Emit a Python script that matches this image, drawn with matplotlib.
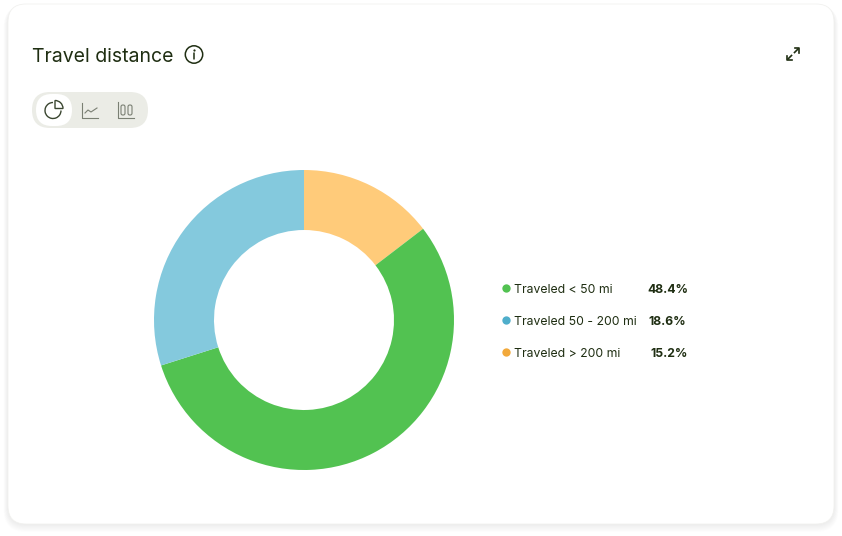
import matplotlib
matplotlib.use('Agg')
import matplotlib.pyplot as plt
from matplotlib.patches import FancyBboxPatch, Circle, Wedge, Arc

# slice sizes as drawn (percent of the ring)
slice_names = ['Traveled > 200 mi', 'Traveled < 50 mi', 'Traveled 50 - 200 mi']
slice_sizes = [14.6, 55.5, 29.9]
slice_colors = ['#FFCB7A', '#52C251', '#84C9DD']

# legend text as printed
legend_names = ['Traveled < 50 mi', 'Traveled 50 - 200 mi', 'Traveled > 200 mi']
legend_values = ['48.4%', '18.6%', '15.2%']
legend_dots = ['#52C251', '#4FAECB', '#F2A93B']

W, H = 842, 536
dark = '#1F2E12'
plt.rcParams['font.family'] = ['Inter', 'DejaVu Sans']

fig = plt.figure(figsize=(W / 100, H / 100), dpi=100, facecolor='white')

# background axes in pixel coordinates, y going down
bg = fig.add_axes([0, 0, 1, 1])
bg.set_xlim(0, W)
bg.set_ylim(H, 0)
bg.axis('off')


def card(x0, y0, x1, y1, r, **kw):
    p = FancyBboxPatch((x0 + r, y0 + r), x1 - x0 - 2 * r, y1 - y0 - 2 * r,
                       boxstyle='round,pad=%f,rounding_size=%f' % (r, r), **kw)
    bg.add_patch(p)


# soft shadow then the card
for i in range(9, 0, -1):
    card(8 - i * .5, 6 - i * .1, 834 + i * .5, 524 + i * .9, 18 + i * .5,
         fc='black', ec='none', alpha=.008)
card(8, 4, 834, 524, 18, fc='white', ec='#F1F1EF', lw=.6)

# header
bg.text(32, 57, 'Travel distance', fontsize=14, color=dark, va='center', ha='left')
bg.add_patch(Circle((194, 54.5), 8.7, fc='none', ec=dark, lw=1.1))
bg.plot([194, 194], [53, 59], color=dark, lw=1.1, solid_capstyle='round')
bg.plot([194], [49.8], 'o', color=dark, ms=1.6, mec='none')

# expand icon
for a, b, c, d in [(787, 60, 799, 48)]:
    bg.plot([a + 1, a + 4.5], [b - 1, b - 4.5], color=dark, lw=1.2)
    bg.plot([c - 1, c - 4.5], [d + 1, d + 4.5], color=dark, lw=1.2)
    bg.plot([a, a, a + 4.5], [b - 4.5, b, b], color=dark, lw=1.2)
    bg.plot([c - 4.5, c, c], [d, d, d + 4.5], color=dark, lw=1.2)

# toggle buttons
card(32, 92, 148, 128, 18, fc='#EBECE6', ec='none')
card(36, 94, 72, 126, 16, fc='white', ec='none')
bg.add_patch(Arc((53, 110.5), 16, 16, theta1=0, theta2=270, color='#3A4630', lw=1.0))
bg.add_patch(Wedge((55, 108.5), 8, 270, 360, fc='none', ec='#3A4630', lw=1.0))
grey = '#7A7F73'
bg.plot([82, 82, 98], [103, 118, 118], color=grey, lw=.8)
bg.plot([85, 88, 91, 94, 97], [113, 110, 112, 110, 108], color=grey, lw=.8)
bg.plot([118, 118, 134], [102, 118, 118], color=grey, lw=.8)
for bx in (121, 128):
    bg.add_patch(FancyBboxPatch((bx, 105), 4, 10, boxstyle='round,pad=0,rounding_size=1.8',
                                fc='none', ec=grey, lw=.8))

# legend
value_right = [688, 686, 688]
for y, name, val, col, vx in zip([288, 320, 352], legend_names, legend_values, legend_dots, value_right):
    bg.plot([506], [y], 'o', color=col, ms=6, mec='none')
    bg.text(514, y + 2, name, fontsize=8.8, color=dark, va='center', ha='left')
    bg.text(vx, y + 2, val, fontsize=8.8, color=dark, va='center', ha='right', fontweight='bold')

# donut
ax = fig.add_axes([154 / W, (H - 470) / H, 300 / W, 300 / H])
ax.pie(slice_sizes, colors=slice_colors, startangle=90, counterclock=False,
       radius=1, wedgeprops={'width': .4, 'linewidth': 0})
ax.set_xlim(-1, 1)
ax.set_ylim(-1, 1)

fig.savefig('out.png', dpi=100)
